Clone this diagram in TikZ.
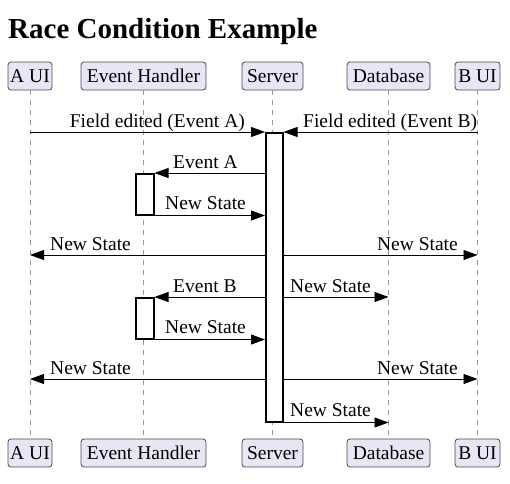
\documentclass[tikz,border=0pt]{standalone}
\usepackage{fontspec}
\setmainfont{Liberation Serif}
\usetikzlibrary{arrows.meta}
\definecolor{actorfill}{HTML}{E6E6F5}
\definecolor{actorline}{HTML}{4A4A4A}
\definecolor{lifecol}{HTML}{9A9A9A}
\begin{document}
\begin{tikzpicture}[x=1pt,y=-1pt,
  actor/.style={draw=actorline, fill=actorfill, rounded corners=3pt, minimum height=28pt, inner sep=0pt, font=\fontsize{19.5}{22}\selectfont, line width=0.8pt},
  life/.style={draw=lifecol, dashed, dash pattern=on 5pt off 5pt, line width=0.8pt},
  msg/.style={-{Triangle[length=14pt,width=10pt]}, line width=0.8pt},
  lbl/.style={font=\fontsize{19.5}{22}\selectfont, inner sep=0pt},
  actbox/.style={draw, fill=white, line width=1.5pt, inner sep=0pt, anchor=north west}]
\useasboundingbox (0,0) rectangle (510,483);
% title
\node[anchor=base west, inner sep=0pt, font=\fontsize{29}{33}\selectfont\bfseries] (title) at (8,38) {Race Condition Example};
% top actors
\node[actor, minimum width=44pt] (aT) at (30,76) {A UI};
\node[actor, minimum width=125pt] (eT) at (143.5,76) {Event Handler};
\node[actor, minimum width=61pt] (sT) at (272.5,76) {Server};
\node[actor, minimum width=83pt] (dT) at (388.5,76) {Database};
\node[actor, minimum width=45pt] (bT) at (477.5,76) {B UI};
% bottom actors
\node[actor, minimum width=44pt] (aB) at (30,453) {A UI};
\node[actor, minimum width=125pt] (eB) at (143.5,453) {Event Handler};
\node[actor, minimum width=61pt] (sB) at (272.5,453) {Server};
\node[actor, minimum width=83pt] (dB) at (388.5,453) {Database};
\node[actor, minimum width=45pt] (bB) at (477.5,453) {B UI};
% lifelines
\draw[life] (aT) -- (aB);
\draw[life] (eT) -- (eB);
\draw[life] (sT) -- (sB);
\draw[life] (dT) -- (dB);
\draw[life] (bT) -- (bB);
% activation boxes
\node[actbox, minimum width=17pt, minimum height=289pt] (sact) at (265,132) {};
\node[actbox, minimum width=18pt, minimum height=41pt] (eact1) at (135,173) {};
\node[actbox, minimum width=18pt, minimum height=41pt] (eact2) at (135,297) {};
% row coordinates
\coordinate (r5) at (0,255);
\coordinate (r8) at (0,379);
% messages
\draw[msg] (aT |- sact.north) -- (sact.north west);
\node[lbl, anchor=base east] (l1) at (245,127) {Field edited (Event A)};
\draw[msg] (bT |- sact.north) -- (sact.north east);
\node[lbl, anchor=base west] (l2) at (303,127) {Field edited (Event B)};
\draw[msg] (sact.west |- eact1.north) -- (eact1.north east);
\node[lbl, anchor=base west] (l3) at (173,168) {Event A};
\draw[msg] (eact1.south east) -- (sact.west |- eact1.south);
\node[lbl, anchor=base west] (l4) at (165,209) {New State};
\draw[msg] (sact.west |- r5) -- (aT |- r5);
\node[lbl, anchor=base west] (l5a) at (50,250) {New State};
\draw[msg] (sact.east |- r5) -- (bT |- r5);
\node[lbl, anchor=base east] (l5b) at (458,250) {New State};
\draw[msg] (sact.west |- eact2.north) -- (eact2.north east);
\node[lbl, anchor=base west] (l6) at (173,292) {Event B};
\draw[msg] (sact.east |- eact2.north) -- (dT |- eact2.north);
\node[lbl, anchor=base west] (l6b) at (290,292) {New State};
\draw[msg] (eact2.south east) -- (sact.west |- eact2.south);
\node[lbl, anchor=base west] (l7) at (165,333) {New State};
\draw[msg] (sact.west |- r8) -- (aT |- r8);
\node[lbl, anchor=base west] (l8a) at (50,374) {New State};
\draw[msg] (sact.east |- r8) -- (bT |- r8);
\node[lbl, anchor=base east] (l8b) at (458,374) {New State};
\draw[msg] (sact.south east) -- (dT |- sact.south);
\node[lbl, anchor=base west] (l9) at (290,416) {New State};
\end{tikzpicture}
\end{document}
